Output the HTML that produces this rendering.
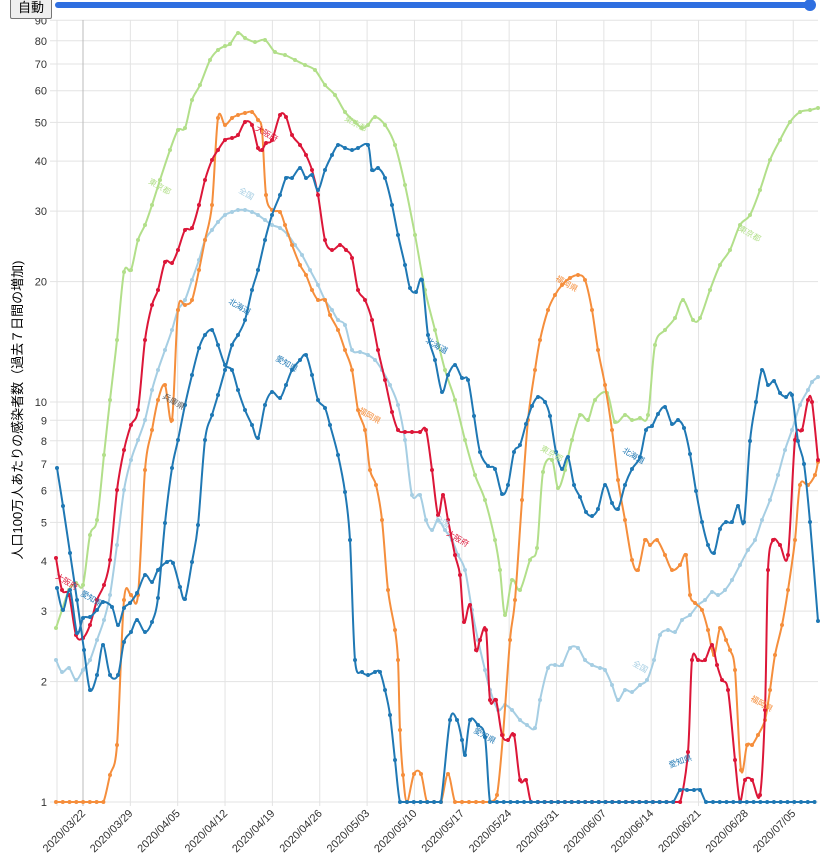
<!DOCTYPE html>
<html><head><meta charset="utf-8">
<style>
html,body{margin:0;padding:0;background:#fff;width:831px;height:859px;overflow:hidden;font-family:"Liberation Sans","Noto Sans CJK JP",sans-serif}
#btn{position:absolute;left:10px;top:-3px;width:40px;height:20px;border:1px solid #767676;border-radius:2px;background:#efefef;font-size:13px;line-height:20px;text-align:center;color:#000}
svg{position:absolute;left:0;top:0}
</style></head><body>
<svg id="s" width="831" height="859" xmlns="http://www.w3.org/2000/svg"></svg>
<div id="btn">自動</div>
<script>
const S=document.getElementById('s');let h='';
function Y(v){return 802-400*Math.log10(v);}
// slider
h+='<rect x="55" y="2" width="757" height="6" rx="3" fill="#2f6fe0"/><circle cx="810" cy="5" r="6" fill="#2f6fe0"/>';
// grid
const vals=[1,2,3,4,5,6,7,8,9,10,20,30,40,50,60,70,80,90];
vals.forEach(v=>{const y=Y(v);h+=`<line x1="50" x2="818" y1="${y}" y2="${y}" stroke="#e3e3e3" stroke-width="1"/>`;
h+=`<text x="47" y="${y+4}" font-size="11" text-anchor="end" fill="#333">${v}</text>`;});
h+=`<line x1="57" x2="57" y1="20" y2="806" stroke="#e3e3e3"/>`;
const dates=["2020/03/22","2020/03/29","2020/04/05","2020/04/12","2020/04/19","2020/04/26","2020/05/03","2020/05/10","2020/05/17","2020/05/24","2020/05/31","2020/06/07","2020/06/14","2020/06/21","2020/06/28","2020/07/05"];
dates.forEach((d,i)=>{const x=83+47.35*i;h+=`<line x1="${x}" x2="${x}" y1="20" y2="806" stroke="${i==0?'#bbb':'#e3e3e3'}"/>`;
h+=`<text x="${x+3}" y="814" font-size="11" text-anchor="end" fill="#333" transform="rotate(-45 ${x+3} 814)">${d}</text>`;});
h+=`<text x="0" y="0" font-size="13" text-anchor="middle" fill="#000" transform="translate(22 410) rotate(-90)">人口100万人あたりの感染者数（過去７日間の増加)</text>`;
function path(p){let d=`M${p[0][0]},${p[0][1]}`;const t=0.16;
for(let i=0;i<p.length-1;i++){const p0=p[i-1]||p[i],p1=p[i],p2=p[i+1],p3=p[i+2]||p2;
let c1y=p1[1]+(p2[1]-p0[1])*t,c2y=p2[1]-(p3[1]-p1[1])*t;
const lo=Math.min(p1[1],p2[1]),hi=Math.max(p1[1],p2[1]);
if(p1[1]==802||p2[1]==802){c1y=Math.min(c1y,802);c2y=Math.min(c2y,802);}
d+=` C${p1[0]+(p2[0]-p0[0])*t},${c1y} ${p2[0]-(p3[0]-p1[0])*t},${c2y} ${p2[0]},${p2[1]}`;}return d;}
function flat(a,b){const r=[];for(let x=a;x<=b+0.1;x+=6.77)r.push([x,802]);return r;}
function series(p,c){h+=`<path d="${path(p)}" fill="none" stroke="${c}" stroke-width="2"/>`;p.forEach(q=>h+=`<circle cx="${q[0]}" cy="${q[1]}" r="2" fill="${c}"/>`);}
const green=[[56,628],[62,610],[69,590],[76,583],[83,585],[90,535],[97,520],[104,455],[110,400],[117,340],[124,272],[131,270],[138,240],[145,225],[152,205],[160,180],[170,150],[178,130],[185,128],[192,100],[200,85],[210,60],[218,50],[225,46],[230,44],[238,33],[245,38],[255,42],[265,40],[275,52],[285,55],[295,60],[305,65],[315,70],[325,85],[335,95],[345,112],[355,122],[362,128],[368,125],[375,117],[385,125],[395,145],[405,185],[415,235],[425,290],[435,330],[445,370],[455,400],[465,440],[475,475],[485,500],[495,540],[500,570],[505,615],[512,580],[520,590],[530,560],[537,548],[543,472],[552,460],[558,488],[565,470],[572,440],[580,415],[588,420],[595,400],[607,393],[615,422],[625,415],[632,420],[640,418],[648,415],[655,345],[665,330],[675,318],[683,300],[693,320],[700,318],[710,290],[720,265],[730,250],[740,225],[750,215],[760,190],[770,160],[780,140],[790,122],[800,112],[810,110],[818,108]];
const lblue=[[56,660],[62,672],[69,668],[76,680],[83,670],[90,660],[97,640],[104,620],[110,595],[117,545],[124,490],[131,460],[138,440],[145,420],[152,390],[158,370],[165,350],[172,330],[178,310],[185,300],[192,280],[199,260],[205,240],[212,230],[218,222],[225,215],[232,212],[238,210],[245,210],[252,212],[258,215],[265,220],[272,225],[280,228],[288,235],[295,245],[302,255],[310,270],[318,285],[325,300],[332,310],[338,320],[345,325],[352,350],[360,352],[368,355],[375,360],[382,370],[390,385],[398,405],[405,440],[412,495],[420,495],[426,520],[432,530],[438,520],[445,530],[452,540],[458,555],[465,570],[472,610],[478,640],[485,670],[490,690],[498,710],[505,705],[512,710],[520,720],[527,725],[535,728],[540,700],[548,668],[555,665],[562,665],[570,648],[578,648],[585,660],[592,665],[600,668],[605,670],[612,685],[618,700],[625,690],[632,692],[640,685],[647,680],[654,660],[660,635],[668,630],[675,632],[682,620],[690,615],[698,605],[705,600],[712,592],[718,595],[725,590],[732,580],[740,565],[748,550],[755,540],[762,520],[770,500],[778,475],[785,450],[792,430],[800,405],[808,390],[812,382],[818,377]];
const orange=[...flat(56,104),[110,775],[117,745],[124,600],[131,595],[138,595],[145,470],[152,430],[158,400],[165,385],[172,420],[178,310],[185,305],[192,300],[199,270],[205,240],[212,205],[218,118],[225,125],[232,118],[238,115],[245,113],[252,112],[258,120],[262,130],[266,195],[272,210],[280,212],[285,225],[292,245],[300,265],[306,275],[312,290],[318,300],[325,300],[330,315],[338,330],[345,350],[352,370],[358,410],[365,430],[370,470],[376,485],[382,520],[388,590],[395,630],[398,660],[400,730],[403,775],[407,802],[414,774],[421,774],[427,802],[434,802],[441,802],[448,774],[455,802],[462,802],[469,802],[476,802],[483,802],[490,802],[497,795],[503,735],[510,640],[515,600],[522,500],[528,420],[535,370],[540,340],[548,310],[555,295],[562,285],[570,278],[578,275],[585,280],[592,310],[598,350],[605,385],[612,430],[618,480],[625,520],[632,560],[638,570],[645,540],[650,545],[657,540],[665,555],[672,570],[680,565],[686,555],[690,595],[695,603],[702,610],[708,630],[714,655],[720,628],[726,640],[730,650],[735,670],[741,770],[747,745],[752,745],[758,735],[765,720],[770,690],[775,655],[782,625],[788,590],[795,540],[800,485],[808,485],[815,475],[818,462]];
const red=[[56,558],[62,590],[69,595],[76,635],[83,638],[90,625],[97,600],[104,585],[110,560],[117,490],[124,450],[131,425],[138,410],[145,340],[152,305],[158,290],[165,262],[172,263],[178,250],[185,230],[192,228],[199,205],[205,180],[212,160],[218,150],[225,140],[232,138],[238,135],[245,122],[252,125],[258,148],[262,150],[266,143],[272,140],[280,115],[286,117],[292,135],[300,145],[306,155],[312,170],[318,195],[325,240],[332,250],[340,245],[346,250],[352,258],[358,290],[365,300],[372,320],[378,350],[385,380],[392,412],[398,430],[405,432],[412,432],[420,432],[426,430],[432,470],[438,515],[443,495],[448,520],[455,555],[460,575],[464,622],[470,605],[476,650],[480,640],[486,630],[490,700],[496,700],[502,735],[508,740],[514,735],[520,780],[526,780],[531,802],...flat(538,682),[688,752],[692,660],[698,660],[705,660],[712,645],[717,665],[722,680],[728,690],[735,760],[740,802],[745,780],[752,780],[760,795],[765,710],[768,570],[773,540],[780,545],[788,555],[795,440],[802,430],[808,400],[812,402],[818,460]];
const blueA=[[57,468],[63,506],[70,553],[77,600],[84,650],[90,690],[97,675],[103,645],[110,675],[118,675],[124,642],[131,632],[137,620],[145,632],[152,622],[158,598],[165,523],[172,468],[178,440],[185,405],[192,375],[199,348],[205,335],[212,330],[218,345],[225,365],[232,370],[238,390],[245,410],[252,425],[258,438],[265,405],[272,392],[280,398],[286,385],[292,370],[300,360],[306,355],[312,375],[318,400],[325,408],[330,425],[338,455],[345,492],[350,540],[355,660],[362,672],[368,675],[375,672],[380,672],[385,690],[390,715],[395,760],[400,802],...flat(407,441),[450,720],[457,720],[462,740],[465,755],[470,720],[478,725],[485,737],[490,802],...flat(497,673),[680,790],[687,790],[694,790],[700,790],[706,802],...flat(713,818)];
const blueB=[[57,588],[63,610],[70,590],[77,633],[83,618],[90,617],[97,610],[103,602],[112,607],[118,625],[124,608],[130,603],[137,593],[145,575],[152,582],[158,570],[167,562],[173,563],[180,587],[185,599],[192,562],[198,525],[205,440],[212,415],[218,395],[225,370],[232,345],[238,335],[245,320],[252,290],[258,270],[265,240],[272,215],[280,195],[286,178],[292,178],[300,168],[306,178],[312,175],[318,190],[325,170],[332,155],[338,145],[345,148],[352,150],[358,148],[368,145],[372,170],[378,168],[385,178],[392,205],[398,235],[405,265],[410,288],[416,292],[422,280],[428,335],[435,360],[442,392],[448,375],[455,365],[462,378],[468,380],[474,416],[480,452],[488,466],[495,469],[502,494],[508,485],[514,452],[520,445],[526,424],[532,406],[538,397],[545,402],[550,416],[556,452],[562,469],[568,457],[574,485],[580,497],[586,512],[592,516],[598,509],[605,485],[612,503],[618,509],[625,485],[632,469],[640,457],[646,430],[652,426],[658,414],[665,407],[672,424],[678,420],[684,428],[690,454],[696,491],[702,522],[708,545],[714,553],[720,529],[726,522],[732,522],[738,506],[744,522],[750,441],[756,402],[762,370],[768,385],[774,381],[780,393],[786,397],[792,395],[798,441],[804,464],[810,522],[818,621]];
series(green,'#b2df8a');series(lblue,'#a6cee3');series(orange,'#f58e3c');series(red,'#dc1638');series(blueA,'#1f78b4');series(blueB,'#1f78b4');
function lab(x,y,t,c,a){h+=`<text x="${x}" y="${y}" font-size="8" fill="${c}" transform="rotate(${a} ${x} ${y})">${t}</text>`;}
lab(148,183,'東京都','#b2df8a',30);lab(238,192,'全国','#a6cee3',30);lab(228,303,'北海道','#1f78b4',30);lab(275,360,'愛知県','#1f78b4',30);
lab(255,130,'大阪府','#dc1638',30);lab(344,120,'東京都','#b2df8a',30);lab(358,412,'福岡県','#f58e3c',30);lab(162,398,'兵庫県','#555',30);
lab(425,342,'北海道','#1f78b4',30);lab(555,280,'福岡県','#f58e3c',30);lab(540,450,'東京都','#b2df8a',30);lab(622,452,'北海道','#1f78b4',30);
lab(738,230,'東京都','#b2df8a',30);lab(434,520,'全国','#a6cee3',30);lab(446,535,'大阪府','#dc1638',30);lab(473,732,'愛知県','#1f78b4',30);
lab(632,665,'全国','#a6cee3',30);lab(750,700,'福岡県','#f58e3c',30);lab(670,768,'愛知県','#1f78b4',-20);lab(55,578,'大阪府','#dc1638',30);lab(80,595,'愛知県','#1f78b4',30);
S.innerHTML=h;
</script>
</body></html>
